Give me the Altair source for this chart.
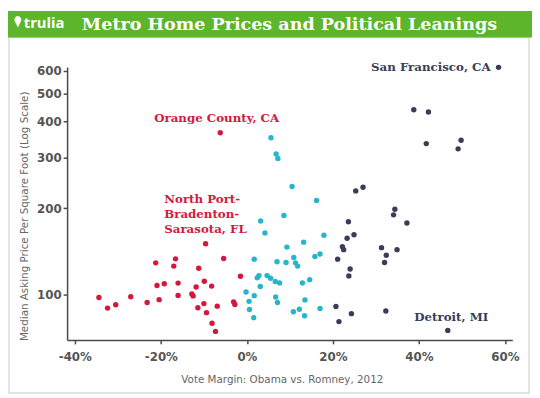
import altair as alt
import pandas as pd

TITLE = "Metro Home Prices and Political Leanings"
BRAND = "trulia"
X_TITLE = "Vote Margin: Obama vs. Romney, 2012"
Y_TITLE = "Median Asking Price Per Square Foot (Log Scale)"
X_TICKS = [-40, -20, 0, 20, 40, 60]
Y_TICKS = [100, 200, 300, 400, 500, 600]
GROUPS = ["Romney metros", "Swing metros", "Obama metros"]
COLORS = ["#d6173d", "#27b5cb", "#3a3d57"]

# Romney-leaning metros (first = Orange County, CA; second = North Port-Bradenton-Sarasota, FL)
red_x = [-6.2, -9.6, -21.2, -16.6, -17.0, -5.4, -11.2, -20.9, -19.2, -16.0, -9.9,
         -11.8, -8.2, -1.5, -34.4, -32.4, -30.5, -27.0, -23.2, -20.4, -16.0, -12.8,
         -12.5, -10.0, -11.4, -6.9, -9.4, -3.1, -2.8, -8.1, -7.3]
red_y = [365.8, 150.4, 129.0, 133.2, 125.7, 133.6, 123.5, 107.6, 109.1, 109.7, 111.4,
         106.3, 107.1, 115.9, 97.7, 89.8, 92.2, 98.4, 93.9, 96.1, 99.4, 100.6,
         99.0, 93.1, 90.0, 91.2, 86.6, 94.4, 92.4, 79.5, 74.5]

# Narrow Obama metros
blue_x = [5.6, 6.8, 7.2, 10.5, 16.2, 8.6, 3.2, 4.2, 17.9, 13.2, 9.3, 17.0, 15.8,
          10.9, 1.7, 7.0, 9.1, 11.3, 11.8, 2.8, 2.4, 4.7, 5.5, 6.6, 7.6, 14.6,
          12.9, 3.1, -0.2, 1.7, 6.7, 0.5, 7.1, 13.5, 0.6, 12.2, 10.8, 17.0, 1.6, 13.4]
blue_y = [351.6, 308.4, 297.9, 237.7, 212.8, 188.5, 180.3, 164.0, 160.9, 152.3, 146.4,
          138.5, 135.7, 134.7, 132.9, 130.1, 129.4, 129.0, 125.7, 116.5, 114.4, 116.5,
          114.1, 111.1, 109.9, 112.8, 109.9, 106.8, 102.2, 99.2, 98.2, 94.8, 93.9,
          95.9, 88.8, 89.0, 87.2, 89.5, 83.2, 84.5]

# Strong Obama metros (first = San Francisco, CA; last = Detroit, MI)
navy_x = [58.5, 38.8, 42.2, 41.7, 49.8, 49.1, 25.3, 27.0, 34.4, 34.1, 37.2, 23.6,
          24.9, 23.3, 22.2, 22.5, 21.1, 31.3, 32.4, 32.0, 34.9, 24.0, 23.7, 20.7,
          21.4, 24.3, 32.3, 46.7]
navy_y = [617.7, 439.9, 431.7, 335.3, 344.5, 321.6, 229.6, 236.4, 198.2, 189.5, 177.5,
          179.3, 161.5, 157.2, 146.9, 143.4, 132.9, 145.7, 137.1, 129.4, 143.4, 122.8,
          116.2, 91.0, 80.6, 85.9, 87.7, 75.1]

LABELS = ["Orange County, CA", "North Port-\nBradenton-\nSarasota, FL",
          "San Francisco, CA", "Detroit, MI"]

rows = []
for g, xs, ys in zip(GROUPS, [red_x, blue_x, navy_x], [red_y, blue_y, navy_y]):
    for x, y in zip(xs, ys):
        rows.append({"margin": x, "price": y, "group": g})
df = pd.DataFrame(rows)

W, H = 452, 277
PAD_L, PAD_T, PAD_R, PAD_B = 60, 57, 20, 56

x_scale = alt.Scale(domain=[-41.8, 61.7], nice=False, zero=False)
y_scale = alt.Scale(type="log", domain=[69.6, 619], nice=False, zero=False)

points = alt.Chart(df).mark_circle(size=30, opacity=1).encode(
    x=alt.X("margin:Q", scale=x_scale,
            axis=alt.Axis(values=X_TICKS, labelExpr="datum.value + '%'", title=X_TITLE,
                          grid=False, tickSize=4, labelPadding=8,
                          titleX=218, titleY=40, titleBaseline="middle")),
    y=alt.Y("price:Q", scale=y_scale,
            axis=alt.Axis(values=Y_TICKS, title=Y_TITLE, grid=False, tickSize=4,
                          labelPadding=2, titleX=-43, titleY=151, titleAngle=-90,
                          titleBaseline="middle", titleAlign="center")),
    color=alt.Color("group:N", scale=alt.Scale(domain=GROUPS, range=COLORS), legend=None),
)


def label_layer(text, x, y, color, align, dx, dy):
    d = pd.DataFrame({"margin": [x], "price": [y], "label": [text]})
    return alt.Chart(d).mark_text(
        font="DejaVu Serif", fontWeight="bold", fontSize=12, color=color,
        align=align, baseline="middle", dx=dx, dy=dy, lineBreak="\n", lineHeight=15,
    ).encode(
        x=alt.X("margin:Q", scale=x_scale),
        y=alt.Y("price:Q", scale=y_scale),
        text="label:N",
    )


lab_oc = label_layer(LABELS[0], red_x[0], red_y[0], "#d21a3e", "left", -67, -15)
lab_np = label_layer(LABELS[1], red_x[1], red_y[1], "#d21a3e", "left", -42, -45)
lab_sf = label_layer(LABELS[2], navy_x[0], navy_y[0], "#3a3d57", "right", -8, 0)
lab_de = label_layer(LABELS[3], navy_x[-1], navy_y[-1], "#3a3d57", "left", -34, -14)

one = pd.DataFrame({"t": [TITLE], "b": [BRAND]})

frame = alt.Chart(one).mark_rect(fillOpacity=0, stroke="#dcdcdc", strokeWidth=1.5).encode(
    x=alt.value(-59), x2=alt.value(469), y=alt.value(-30), y2=alt.value(331))
band = alt.Chart(one).mark_rect(color="#5cb52b").encode(
    x=alt.value(-60), x2=alt.value(472), y=alt.value(-57), y2=alt.value(-30))
title = alt.Chart(one).mark_text(
    font="DejaVu Serif", fontWeight="bold", fontSize=17.8, color="white",
    align="left", baseline="alphabetic").encode(
    x=alt.value(15), y=alt.value(-38), text="t:N")
brand = alt.Chart(one).mark_text(
    font="Open Sans", fontWeight="bold", fontSize=15, color="white",
    align="left", baseline="alphabetic").encode(
    x=alt.value(-44), y=alt.value(-40), text="b:N")
pin = alt.Chart(one).mark_point(
    shape="M0,1 L-0.55,-0.1 A0.62,0.62 0 1,1 0.55,-0.1 Z",
    filled=True, color="white", opacity=1, size=130).encode(
    x=alt.value(-50), y=alt.value(-46))

chart = alt.layer(frame, band, title, brand, pin, points, lab_oc, lab_np, lab_sf, lab_de).properties(
    width=W, height=H,
    autosize=alt.AutoSizeParams(type="none"),
    padding={"left": PAD_L, "top": PAD_T, "right": PAD_R, "bottom": PAD_B},
    background="white",
).configure_view(stroke=None).configure_axis(
    domainColor="#4a4a4a", domainWidth=1.5, tickColor="#4a4a4a", tickWidth=1.5,
    labelFont="DejaVu Sans", labelFontWeight="bold", labelFontSize=12, labelColor="#555555",
    titleFont="DejaVu Sans", titleFontWeight="normal", titleFontSize=10.5, titleColor="#666666",
)

chart.save("out.html", embed_options={"renderer": "svg", "actions": False})
